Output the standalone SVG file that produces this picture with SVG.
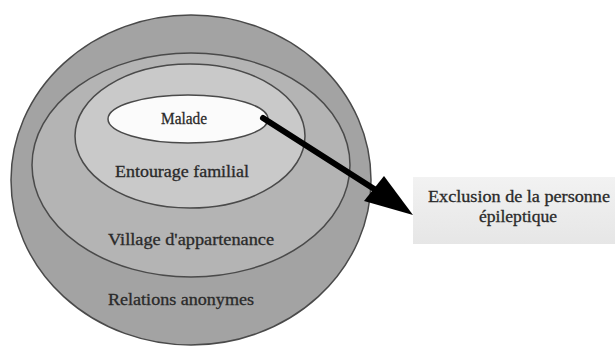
<svg xmlns="http://www.w3.org/2000/svg" width="615" height="349" viewBox="0 0 615 349">
<style>
.ring{stroke:#4a4a4a;stroke-width:1.5}
.lbl{font-family:"Liberation Serif","Times New Roman",serif;font-size:16px;fill:#2a2a2a;text-anchor:middle;stroke:#2a2a2a;stroke-width:0.3}
</style>
<defs>
<linearGradient id="boxg" x1="0" y1="0" x2="0" y2="1">
<stop offset="0" stop-color="#f2f2f2"/>
<stop offset="1" stop-color="#e6e6e6"/>
</linearGradient>
</defs>
<rect width="615" height="349" fill="#fff"/>
<g id="relations">
<ellipse class="ring" cx="191" cy="180" rx="180" ry="165" fill="#a3a3a3"/>
<text class="lbl" x="181" y="305" textLength="146" lengthAdjust="spacingAndGlyphs">Relations anonymes</text>
</g>
<g id="village">
<ellipse class="ring" cx="191" cy="165" rx="159" ry="112" fill="#b4b4b4"/>
<text class="lbl" x="191" y="245" textLength="166" lengthAdjust="spacingAndGlyphs">Village d'appartenance</text>
</g>
<g id="entourage">
<ellipse class="ring" cx="190" cy="136" rx="115" ry="72" fill="#c9c9c9"/>
<text class="lbl" x="182" y="177" textLength="134" lengthAdjust="spacingAndGlyphs">Entourage familial</text>
</g>
<g id="malade">
<ellipse class="ring" cx="188" cy="119" rx="80" ry="24" fill="#fbfbfb"/>
<text class="lbl" x="184" y="124" textLength="46" lengthAdjust="spacingAndGlyphs">Malade</text>
</g>
<g id="exclusion">
<rect x="413" y="177" width="202" height="67" fill="url(#boxg)"/>
<text class="lbl" x="519" y="202" textLength="182" lengthAdjust="spacingAndGlyphs">Exclusion de la personne</text>
<text class="lbl" x="518" y="222" textLength="78" lengthAdjust="spacingAndGlyphs">épileptique</text>
</g>
<g id="connectors">
<line x1="263" y1="118" x2="382" y2="194" stroke="#000" stroke-width="6" stroke-linecap="round"/>
<path d="M413,215 L364,201 L384,176 Z" fill="#000"/>
</g>
</svg>
